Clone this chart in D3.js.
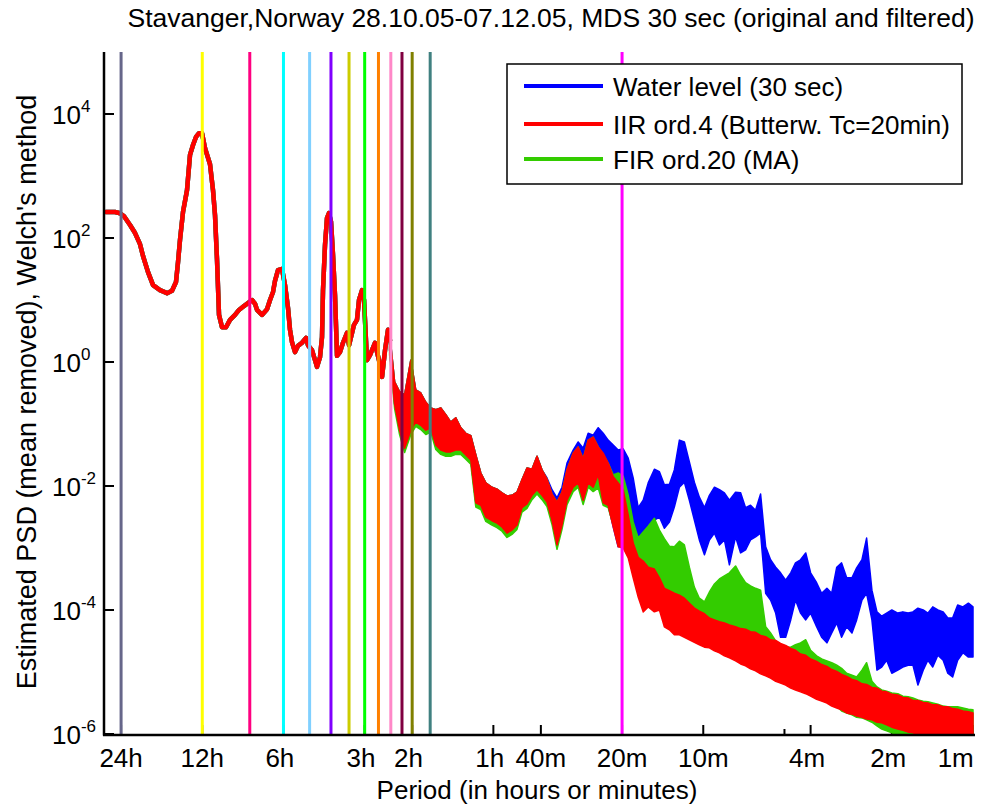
<!DOCTYPE html>
<html><head><meta charset="utf-8">
<script src="https://cdn.jsdelivr.net/npm/d3@7"></script>
<style>
body{margin:0;background:#fff}
text{font-family:"Liberation Sans",Arial,Helvetica,sans-serif;fill:#000}
</style>
</head><body>
<svg id="chart" width="985" height="805"></svg>
<script>
// ---------------- data ----------------
const titleText = "Stavanger,Norway 28.10.05-07.12.05, MDS 30 sec (original and filtered)";
const xLabelText = "Period (in hours or minutes)";
const yLabelText = "Estimated PSD (mean removed), Welch's method";

// x ticks: period in minutes
const xTickPeriodMin = [1440, 720, 360, 180, 120, 60, 40, 20, 10, 4, 2, 1];
const xTickLabels = ["24h", "12h", "6h ", "3h ", "2h ", "1h ", "40m", "20m", "10m", "4m ", "2m ", "1m "];
const xMinorTickPeriodMin = [5];
const yTickExponents = [-6, -4, -2, 0, 2, 4];

// vertical marker lines (24h/n harmonics and Tc = 20 min)
const markerPeriodMin = [1440, 720, 480, 360, 288, 240, 205.7, 180, 160, 144, 130.9, 120, 102.9, 20];
const markerColors = ["#66668a", "#ffff00", "#ff0080", "#00ffff", "#80d0ff", "#8000ff", "#cccc00",
                      "#00ff00", "#ff8000", "#ff88c8", "#800040", "#808000", "#408080", "#ff00ff"];

// low-frequency part (identical in all three series): period (min), log10 PSD
const lfPeriodMin = [1638,1517,1453,1404,1334,1278,1225,1194,1144,1096,1033,
  972.9,932.3,901.0,885.7,870.7,848.7,820.2,799.4,779.2,759.6,740.3,721.6,703.4,674.0,656.9,645.8,634.9,624.1,608.4,587.9,568.2,544.5,526.2,
  508.5,487.3,470.9,459.0,451.2,432.4,414.3,403.8,393.6,387.0,377.2,364.5,355.3,346.3,340.5,334.7,326.2,318.0,307.3,297.0,292.0,282.2,275.0,270.4,263.5,259.1,256.9,
  252.5,248.3,244.1,239.9,235.9,231.9,227.9,222.2,216.6,209.3,205.7,200.5,197.2,192.2,188.9,184.1,181.0,178.0,176.4,172.0,164.8,162.0,159.3,155.2,151.3,147.5,145.0];
const lfLog10PSD = [2.42,2.42,2.40,2.35,2.21,2.08,1.90,1.71,1.45,1.24,1.16,
  1.11,1.15,1.29,1.61,1.97,2.42,2.77,3.34,3.50,3.63,3.69,3.69,3.45,3.19,2.77,2.37,1.65,0.76,0.56,0.56,0.68,0.76,0.84,
  0.89,0.95,1.00,0.94,0.84,0.76,0.85,1.00,1.13,1.31,1.48,1.50,1.24,0.87,0.52,0.32,0.16,0.26,0.31,0.39,0.27,0.19,0.03,-0.08,0.08,0.40,1.16,
  1.89,2.32,2.40,2.26,1.73,1.08,0.10,0.16,0.31,0.47,0.27,0.47,0.60,0.68,1.00,1.16,1.00,0.35,0.03,0.11,0.31,0.16,0.03,-0.24,0.19,0.52,0.35];

// high-frequency part: period grid (min) and per-series envelope (log10 PSD, upper / lower)
const hfPeriodMin = [145.5,139.4,133.6,128,
  121.4,116.4,111.5,106.8,102.4,98.09,93.99,90.06,86.30,82.69,79.23,75.92,72.74,69.70,66.79,64,
  60.72,58.18,55.75,53.42,51.19,49.05,47.00,45.03,43.15,41.34,39.62,37.96,36.37,34.85,33.40,32,
  30.36,29.09,27.88,26.71,25.59,24.52,23.50,22.52,21.57,20.67,19.81,18.98,18.19,17.43,16.70,16,
  15.18,14.54,13.94,13.35,12.80,12.26,11.75,11.26,10.79,10.34,9.90,9.49,9.09,8.71,8.35,8,
  7.59,7.27,6.97,6.68,6.40,6.13,5.87,5.63,5.39,5.17,4.95,4.74,4.55,4.36,4.17,4,
  3.80,3.64,3.48,3.34,3.20,3.07,2.94,2.81,2.70,2.58,2.48,2.37,2.27,2.18,2.09,2,
  1.90,1.82,1.74,1.67,1.60,1.53,1.47,1.41,1.35,1.29,1.24,1.19,1.14,1.09,1.04,1];

const waterHi = [0.47,-0.32,-0.48,-0.53,
  0.03,-0.45,-0.50,-0.65,-0.74,-0.77,-0.74,-0.85,-0.97,-0.90,-1.06,-1.15,-1.19,-1.50,-1.79,-1.95,
  -2.02,-2.05,-2.11,-2.16,-2.15,-2.10,-1.90,-1.71,-1.73,-1.52,-1.74,-1.87,-2.06,-2.19,-2.02,-1.63,
  -1.42,-1.29,-1.39,-1.15,-1.18,-1.06,-1.15,-1.26,-1.34,-1.42,-1.40,-1.55,-1.87,-2.35,-2.23,-1.95,
  -1.73,-1.77,-1.98,-1.97,-1.74,-1.26,-1.29,-1.61,-1.94,-2.18,-2.35,-2.15,-2.02,-2.06,-2.11,-2.23,
  -2.10,-2.11,-2.35,-2.31,-2.39,-2.13,-2.98,-3.19,-3.31,-3.40,-3.52,-3.40,-3.24,-3.19,-3.08,-3.40,
  -3.56,-3.73,-3.65,-3.73,-3.31,-3.24,-3.48,-3.48,-3.32,-3.19,-2.84,-3.68,-4.03,-4.10,-4.05,-4.00,
  -4.05,-4.03,-4.05,-4.03,-3.97,-4.00,-4.05,-3.95,-4.00,-4.03,-4.13,-4.13,-3.92,-3.95,-3.89,-3.95];
const waterLo = [0.19,-0.68,-1.10,-1.39,
  -1.10,-0.97,-1.02,-1.10,-1.06,-1.34,-1.42,-1.45,-1.45,-1.42,-1.42,-1.50,-1.58,-2.27,-2.31,-2.50,
  -2.56,-2.60,-2.66,-2.76,-2.71,-2.63,-2.35,-2.29,-2.15,-2.06,-2.15,-2.26,-2.55,-2.95,-2.63,-2.23,
  -2.02,-1.95,-2.23,-1.95,-2.02,-1.82,-2.27,-2.31,-2.66,-2.98,-2.03,-2.26,-2.79,-3.00,-2.87,-2.63,
  -2.55,-2.50,-2.68,-2.58,-2.34,-2.02,-1.94,-2.23,-2.55,-2.87,-3.11,-2.87,-2.76,-2.95,-2.87,-3.27,
  -2.82,-3.08,-3.03,-2.87,-2.82,-2.76,-3.73,-3.84,-4.05,-4.44,-4.44,-4.16,-3.84,-4.05,-4.16,-4.05,
  -4.27,-4.44,-4.53,-4.37,-4.21,-4.44,-4.27,-4.37,-4.16,-3.84,-3.73,-4.16,-4.97,-4.92,-4.81,-5.02,
  -4.97,-4.92,-4.89,-4.89,-5.21,-4.97,-4.81,-4.92,-4.73,-4.81,-5.02,-5.08,-4.81,-4.69,-4.76,-4.76];

const iirHi = [0.47,-0.32,-0.48,-0.53,
  0.03,-0.45,-0.50,-0.65,-0.74,-0.77,-0.74,-0.85,-0.97,-0.90,-1.06,-1.15,-1.19,-1.50,-1.79,-1.95,
  -2.02,-2.05,-2.11,-2.16,-2.15,-2.10,-1.90,-1.71,-1.73,-1.52,-1.74,-1.89,-2.13,-2.26,-2.10,-1.74,
  -1.47,-1.37,-1.56,-1.26,-1.21,-1.37,-1.47,-1.63,-1.85,-1.95,-2.06,-2.47,-2.92,-3.15,-3.21,-3.31,
  -3.34,-3.48,-3.65,-3.69,-3.73,-3.76,-3.81,-3.89,-3.97,-4.02,-4.06,-4.13,-4.16,-4.19,-4.21,-4.24,
  -4.27,-4.30,-4.31,-4.35,-4.36,-4.41,-4.43,-4.48,-4.49,-4.54,-4.57,-4.62,-4.65,-4.71,-4.73,-4.79,
  -4.83,-4.88,-4.91,-4.96,-4.99,-5.04,-5.07,-5.12,-5.14,-5.19,-5.20,-5.25,-5.26,-5.31,-5.32,-5.36,
  -5.37,-5.41,-5.42,-5.46,-5.46,-5.49,-5.50,-5.53,-5.53,-5.56,-5.56,-5.59,-5.60,-5.63,-5.64,-5.66];
const iirLo = [0.19,-0.68,-1.10,-1.39,
  -1.10,-0.97,-1.02,-1.10,-1.06,-1.34,-1.42,-1.45,-1.45,-1.42,-1.42,-1.50,-1.58,-2.27,-2.31,-2.50,
  -2.56,-2.60,-2.66,-2.76,-2.71,-2.63,-2.35,-2.29,-2.15,-2.06,-2.15,-2.26,-2.55,-2.95,-2.63,-2.23,
  -2.02,-1.95,-2.23,-1.95,-2.02,-1.82,-2.27,-2.31,-2.66,-2.98,-3.00,-3.16,-3.48,-3.79,-4.03,-3.95,
  -4.03,-4.00,-4.27,-4.32,-4.40,-4.40,-4.44,-4.48,-4.52,-4.56,-4.60,-4.61,-4.66,-4.69,-4.74,-4.77,
  -4.82,-4.87,-4.90,-4.95,-4.98,-5.03,-5.06,-5.10,-5.15,-5.18,-5.21,-5.26,-5.29,-5.32,-5.35,-5.39,
  -5.44,-5.47,-5.50,-5.55,-5.58,-5.61,-5.66,-5.68,-5.71,-5.73,-5.76,-5.77,-5.81,-5.82,-5.85,-5.89,
  -5.92,-5.94,-5.97,-5.98,-6.02,-6.03,-6.05,-6.06,-6.08,-6.10,-6.10,-6.10,-6.10,-6.10,-6.10,-6.10];

const firHi = [0.47,-0.32,-0.48,-0.53,
  0.03,-0.45,-0.50,-0.65,-0.74,-0.77,-0.74,-0.85,-0.97,-0.90,-1.06,-1.15,-1.19,-1.50,-1.79,-1.95,
  -2.02,-2.05,-2.11,-2.16,-2.15,-2.10,-1.90,-1.71,-1.73,-1.52,-1.74,-1.89,-2.13,-2.26,-2.10,-1.74,
  -1.47,-1.37,-1.56,-1.26,-1.21,-1.37,-1.50,-1.63,-1.82,-1.79,-1.84,-2.15,-2.58,-2.84,-2.74,-2.65,
  -2.52,-2.71,-2.85,-2.97,-2.98,-2.89,-2.95,-3.31,-3.63,-3.81,-3.87,-3.71,-3.58,-3.50,-3.45,-3.40,
  -3.29,-3.44,-3.56,-3.61,-3.65,-3.68,-4.27,-4.37,-4.50,-4.60,-4.60,-4.60,-4.56,-4.53,-4.48,-4.65,
  -4.74,-4.79,-4.82,-4.85,-4.89,-4.94,-5.02,-5.05,-5.08,-4.97,-4.85,-5.15,-5.24,-5.29,-5.31,-5.34,
  -5.35,-5.39,-5.40,-5.42,-5.45,-5.47,-5.48,-5.50,-5.52,-5.55,-5.56,-5.56,-5.56,-5.58,-5.60,-5.61];
const firLo = [0.12,-0.75,-1.17,-1.46,
  -1.17,-1.04,-1.09,-1.17,-1.13,-1.41,-1.49,-1.52,-1.52,-1.49,-1.49,-1.57,-1.65,-2.34,-2.38,-2.57,
  -2.63,-2.67,-2.73,-2.83,-2.78,-2.70,-2.42,-2.36,-2.22,-2.13,-2.22,-2.33,-2.62,-3.02,-2.70,-2.30,
  -2.09,-2.02,-2.30,-2.02,-2.09,-2.03,-2.31,-2.35,-2.63,-2.71,-2.52,-2.76,-3.15,-3.19,-3.31,-3.41,
  -3.44,-3.58,-3.75,-3.79,-3.83,-3.86,-3.91,-3.99,-4.07,-4.12,-4.32,-4.44,-4.45,-4.45,-4.37,-4.34,
  -4.37,-4.39,-4.42,-4.44,-4.47,-4.50,-4.76,-4.81,-4.87,-4.92,-5.02,-5.13,-5.13,-5.15,-5.23,-5.27,
  -5.32,-5.39,-5.44,-5.48,-5.55,-5.63,-5.66,-5.69,-5.73,-5.74,-5.77,-5.81,-5.87,-5.92,-5.95,-5.98,
  -6.02,-6.05,-6.06,-6.08,-6.10,-6.10,-6.10,-6.10,-6.10,-6.10,-6.10,-6.10,-6.10,-6.10,-6.10,-6.10];

const seriesNames = ["Water level (30 sec)", "IIR ord.4 (Butterw. Tc=20min)", "FIR ord.20 (MA)"];
const seriesColors = ["#0000ff", "#ff0000", "#33cc00"];

// ---------------- chart ----------------
const svg = d3.select("#chart");
const plot = {left: 104, right: 975, top: 52, bottom: 734};
const x = d3.scaleLog().domain([1666, 1]).range([104, 973]);
const y = d3.scaleLog().domain([1e-6, 1e5]).range([plot.bottom, plot.top]);
const FS = 26;

svg.append("rect").attr("width", 985).attr("height", 805).attr("fill", "#fff");

svg.append("defs").append("clipPath").attr("id", "clip")
  .append("rect").attr("x", plot.left).attr("y", plot.top)
  .attr("width", plot.right - plot.left + 5).attr("height", plot.bottom - plot.top);

// axis ticks (drawn below marker lines)
const axG = svg.append("g");
axG.selectAll("line.xt").data(xTickPeriodMin).join("line")
  .attr("x1", d => x(d)).attr("x2", d => x(d))
  .attr("y1", plot.bottom).attr("y2", plot.bottom - 9)
  .attr("stroke", "#000").attr("stroke-width", 2);
axG.selectAll("line.xm").data(xMinorTickPeriodMin).join("line")
  .attr("x1", d => x(d)).attr("x2", d => x(d))
  .attr("y1", plot.bottom).attr("y2", plot.bottom - 5)
  .attr("stroke", "#000").attr("stroke-width", 2);
axG.selectAll("line.yt").data(yTickExponents).join("line")
  .attr("x1", plot.left).attr("x2", plot.left + 10)
  .attr("y1", d => y(Math.pow(10, d))).attr("y2", d => y(Math.pow(10, d)))
  .attr("stroke", "#000").attr("stroke-width", 2);

// data
const dataG = svg.append("g").attr("clip-path", "url(#clip)");
const lfPts = d3.zip(lfPeriodMin, lfLog10PSD);
const line = d3.line().x(d => x(d[0])).y(d => y(Math.pow(10, d[1])));
const area = d3.area().x(d => x(d[0]))
  .y0(d => y(Math.pow(10, d[2]))).y1(d => y(Math.pow(10, d[1])));

const drawOrder = [
  {hi: waterHi, lo: waterLo, color: seriesColors[0]},
  {hi: firHi, lo: firLo, color: seriesColors[2]},
  {hi: iirHi, lo: iirLo, color: seriesColors[1]}
];
drawOrder.forEach(s => {
  dataG.append("path").attr("d", line(lfPts))
    .attr("fill", "none").attr("stroke", s.color).attr("stroke-width", 4.5)
    .attr("stroke-linejoin", "round").attr("stroke-linecap", "round");
  dataG.append("path").attr("d", area(d3.zip(hfPeriodMin, s.hi, s.lo)))
    .attr("fill", s.color).attr("stroke", s.color).attr("stroke-width", 1.5)
    .attr("stroke-linejoin", "round");
});

// vertical marker lines
svg.append("g").selectAll("line").data(markerPeriodMin).join("line")
  .attr("x1", d => x(d)).attr("x2", d => x(d))
  .attr("y1", plot.top).attr("y2", plot.bottom)
  .attr("stroke", (d, i) => markerColors[i]).attr("stroke-width", 3);

// axis lines
svg.append("line").attr("x1", plot.left).attr("x2", plot.left)
  .attr("y1", plot.top).attr("y2", plot.bottom + 1.5)
  .attr("stroke", "#000").attr("stroke-width", 2.5);
svg.append("line").attr("x1", plot.left - 1).attr("x2", plot.right)
  .attr("y1", plot.bottom + 1).attr("y2", plot.bottom + 1)
  .attr("stroke", "#000").attr("stroke-width", 2.5);

// x tick labels
const xl = svg.append("g").selectAll("text").data(xTickPeriodMin).join("text")
  .attr("x", d => x(d)).attr("y", 767)
  .attr("text-anchor", "middle").attr("font-size", FS)
  .style("white-space", "pre").attr("xml:space", "preserve")
  .text((d, i) => xTickLabels[i]);
// keep the last label inside the picture
xl.each(function () {
  const b = this.getBBox();
  const over = b.x + b.width - 2 - 983;
  if (over > 0) d3.select(this).attr("x", +d3.select(this).attr("x") - over - 4);
});

// y tick labels 10^e
const yt = svg.append("g").selectAll("text").data(yTickExponents).join("text")
  .attr("x", 52).attr("y", d => y(Math.pow(10, d)) + 9.5).attr("font-size", FS);
yt.append("tspan").text("10");
yt.append("tspan").attr("font-size", 17).attr("dy", -12).text(d => String(d));

// title and axis labels
svg.append("text").attr("x", 551).attr("y", 27).attr("text-anchor", "middle")
  .attr("font-size", 26.5).text(titleText);
svg.append("text").attr("x", 537).attr("y", 799).attr("text-anchor", "middle")
  .attr("font-size", FS).text(xLabelText);
svg.append("text").attr("transform", "translate(36,392) rotate(-90)")
  .attr("text-anchor", "middle").attr("font-size", 27).text(yLabelText);

// legend
const lg = svg.append("g");
lg.append("rect").attr("x", 507).attr("y", 64).attr("width", 455).attr("height", 120)
  .attr("fill", "#fff").attr("stroke", "#000").attr("stroke-width", 1.5);
const legendRows = [86, 124, 159];
seriesNames.forEach((n, i) => {
  lg.append("line").attr("x1", 524).attr("x2", 603)
    .attr("y1", legendRows[i]).attr("y2", legendRows[i])
    .attr("stroke", seriesColors[i]).attr("stroke-width", 4);
  lg.append("text").attr("x", 613).attr("y", legendRows[i] + 9.5)
    .attr("font-size", FS).text(n);
});
</script>
</body></html>
